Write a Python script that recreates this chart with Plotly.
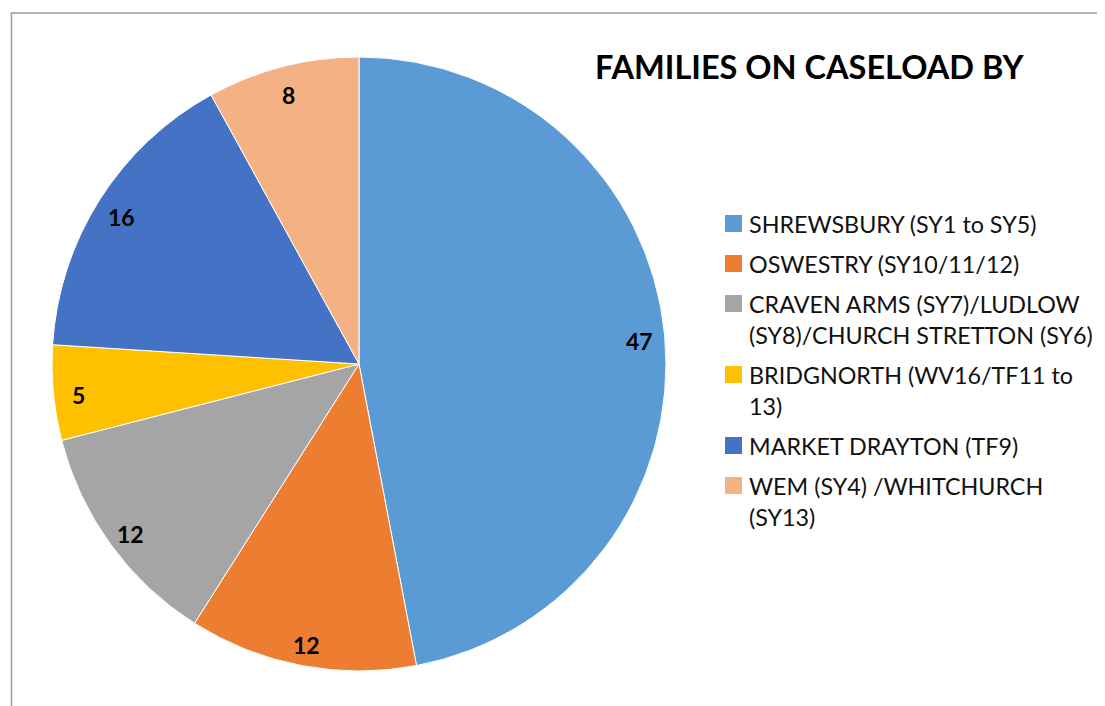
import math
import plotly.graph_objects as go

# ---- data ----
categories = [
    "SHREWSBURY (SY1 to SY5)",
    "OSWESTRY (SY10/11/12)",
    "CRAVEN ARMS (SY7)/LUDLOW<br>(SY8)/CHURCH STRETTON (SY6)",
    "BRIDGNORTH (WV16/TF11 to<br>13)",
    "MARKET DRAYTON (TF9)",
    "WEM (SY4) /WHITCHURCH<br>(SY13)",
]
values = [47, 12, 12, 5, 16, 8]
colors = ["#5B9BD5", "#ED7D31", "#A5A5A5", "#FFC000", "#4472C4", "#F4B183"]
title_text = "FAMILIES ON CASELOAD BY"

# ---- layout constants ----
OFF = 8  # page body margin
W, H = 1105 - OFF, 706 - OFF
FONT = "Lato"
cx, cy, R = 359, 364, 307


def px(x):
    return (x - OFF) / W


def py(y):
    return 1 - (y - OFF) / H


fig = go.Figure()
fig.add_trace(go.Pie(
    labels=[c.replace("<br>", " ") for c in categories],
    values=values,
    sort=False,
    direction="clockwise",
    rotation=0,
    marker=dict(colors=colors, line=dict(color="white", width=1)),
    textinfo="none",
    hoverinfo="label+value",
    domain=dict(x=[px(cx - R), px(cx + R)], y=[py(cy + R), py(cy - R)]),
    showlegend=False,
))

annotations = []
# data labels placed near outer edge of each slice
total = sum(values)
cum = 0
for v in values:
    mid = (cum + v / 2) / total * 2 * math.pi
    cum += v
    r = 0.918 * R
    lx = cx + r * math.sin(mid)
    ly = cy - r * math.cos(mid) + 4
    annotations.append(dict(
        x=px(lx), y=py(ly), xref="paper", yref="paper", text=str(v),
        showarrow=False, font=dict(family=FONT, size=23, color="black", weight="bold"),
        xanchor="center", yanchor="middle"))

# title
annotations.append(dict(
    x=px(809), y=py(67), xref="paper", yref="paper", text=f"<b>{title_text}</b>",
    showarrow=False, font=dict(family=FONT, size=32.5, color="black"),
    xanchor="center", yanchor="middle"))

# legend (manual, to match spacing)
shapes = []
y = 223.5
for cat, col in zip(categories, colors):
    shapes.append(dict(type="rect", xref="paper", yref="paper",
                       x0=px(725), x1=px(742), y0=py(y + 8.5), y1=py(y - 8.5),
                       fillcolor=col, line=dict(width=0)))
    lines = cat.split("<br>")
    for i, ln in enumerate(lines):
        annotations.append(dict(
            x=px(747), y=py(y + 31 * i), xref="paper", yref="paper", text=ln,
            showarrow=False, font=dict(family=FONT, size=23.3, color="#111111"),
            xanchor="left", yanchor="middle"))
    y += 40 + 31 * (len(lines) - 1)

# chart border
shapes.append(dict(type="rect", xref="paper", yref="paper",
                   x0=px(11.5), x1=1.05, y0=-0.05, y1=py(13),
                   line=dict(color="#9A9A9A", width=1.5), fillcolor="rgba(0,0,0,0)",
                   layer="below"))

fig.update_layout(
    width=W, height=H,
    margin=dict(l=0, r=0, t=0, b=0),
    paper_bgcolor="white", plot_bgcolor="white",
    annotations=annotations, shapes=shapes,
    font=dict(family=FONT),
)

fig.write_html("out.html")
